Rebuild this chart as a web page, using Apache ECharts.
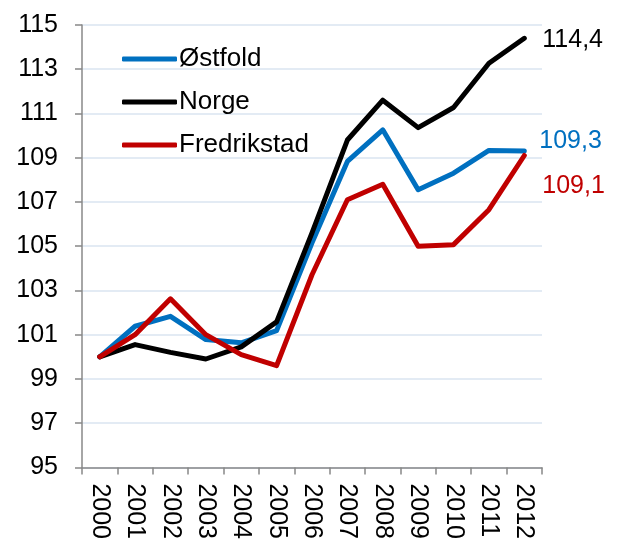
<!DOCTYPE html>
<html>
<head>
<meta charset="utf-8">
<script src="https://cdn.jsdelivr.net/npm/echarts@6/dist/echarts.min.js"></script>
<style>
  html, body { margin: 0; padding: 0; background: #fff; }
  #chart { width: 617px; height: 542px; }
</style>
</head>
<body>
<div id="chart"></div>
<script>
// 数据
var years = ['2000', '2001', '2002', '2003', '2004', '2005', '2006', '2007', '2008', '2009', '2010', '2011', '2012'];
var ostfold = [100, 101.38, 101.83, 100.78, 100.63, 101.18, 105.15, 108.83, 110.26, 107.55, 108.3, 109.33, 109.3];
var norge = [100, 100.55, 100.2, 99.9, 100.45, 101.58, 105.6, 109.8, 111.6, 110.36, 111.27, 113.27, 114.4];
var fredrikstad = [100, 101.0, 102.62, 101.0, 100.1, 99.6, 103.71, 107.1, 107.8, 105.0, 105.07, 106.65, 109.1];
var yTicks = [95, 97, 99, 101, 103, 105, 107, 109, 111, 113, 115];

var font = '"Liberation Sans", Arial, sans-serif';

// 末尾标签，小数点用逗号
function endLabel(color, offset) {
  return {
    show: true,
    color: color,
    fontFamily: font,
    fontSize: 25,
    distance: 18,
    offset: offset,
    formatter: function (p) {
      return String(p.value).replace('.', ',');
    }
  }
}

function lineSeries(name, data, color, offset) {
  return {
    name: name,
    type: 'line',
    data: data,
    symbol: 'none',
    lineStyle: {
      color: color,
      width: 5,
      cap: 'round',
      join: 'round'
    },
    itemStyle: { color: color },
    endLabel: endLabel(color, offset)
  }
}

var chart = echarts.init(document.getElementById('chart'), null, { renderer: 'canvas' });

var option = {
  animation: false,
  backgroundColor: '#fff',
  textStyle: { fontFamily: font },
  grid: {
    left: 82,
    right: 75,
    top: 25,
    bottom: 74
  },
  legend: {
    orient: 'vertical',
    left: 117,
    top: 41,
    icon: 'roundRect',
    itemWidth: 55,
    itemHeight: 5,
    itemGap: 17,
    selectedMode: false,
    textStyle: {
      color: '#000',
      fontSize: 26,
      fontFamily: font,
      padding: [0, 0, 0, -3]
    },
    data: ['Østfold', 'Norge', 'Fredrikstad']
  },
  xAxis: {
    type: 'category',
    data: years,
    boundaryGap: true,
    axisLine: { lineStyle: { color: '#888', width: 1.5 } },
    axisTick: { show: true, length: 7, lineStyle: { color: '#888', width: 1.5 } },
    axisLabel: {
      rotate: -90,
      margin: 16,
      color: '#000',
      fontSize: 25,
      fontFamily: font
    },
    splitLine: { show: false }
  },
  yAxis: {
    type: 'value',
    min: yTicks[0],
    max: yTicks[yTicks.length - 1],
    interval: 2,
    axisLine: { show: true, lineStyle: { color: '#888', width: 1.5 } },
    axisTick: { show: true, length: 7, lineStyle: { color: '#888', width: 1.5 } },
    axisLabel: {
      margin: 24,
      color: '#000',
      fontSize: 25,
      fontFamily: font
    },
    splitLine: { lineStyle: { color: '#dae4f1', width: 1.5 } }
  },
  series: [
    lineSeries('Østfold', ostfold, '#0070c0', [-3, -10]),
    lineSeries('Norge', norge, '#000000', [0, 2]),
    lineSeries('Fredrikstad', fredrikstad, '#c00000', [0, 31])
  ]
};

chart.setOption(option);
</script>
</body>
</html>
